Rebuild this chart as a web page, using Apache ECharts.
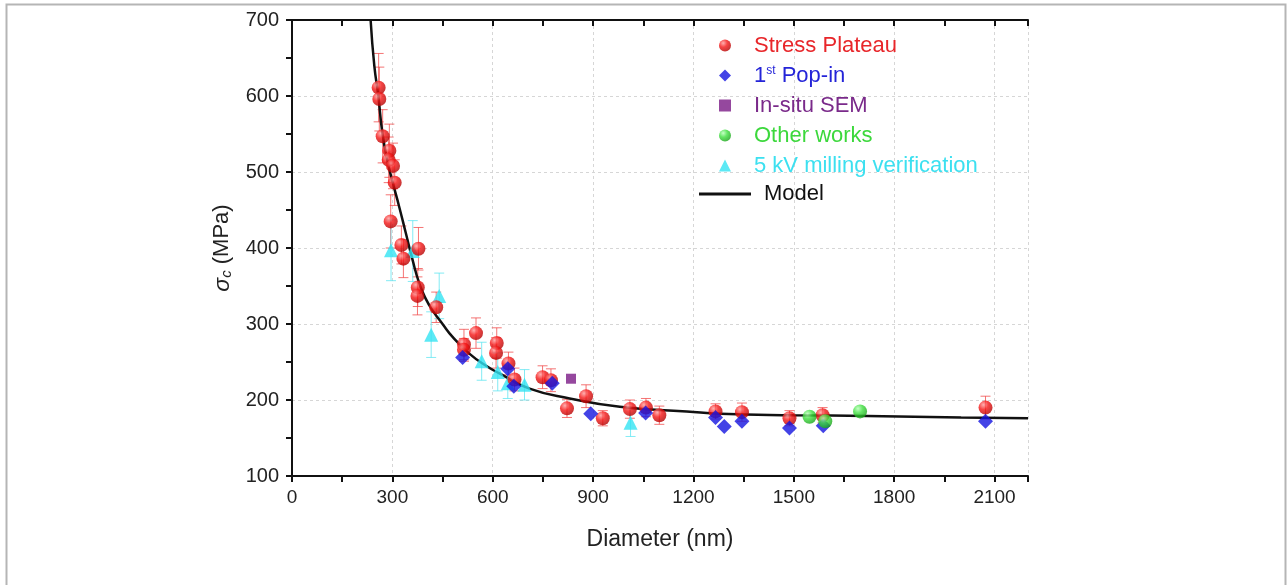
<!DOCTYPE html>
<html>
<head>
<meta charset="utf-8">
<script src="https://cdn.jsdelivr.net/npm/echarts@6/dist/echarts.min.js"></script>
<style>
  html, body { margin: 0; padding: 0; background: #fff; }
  #chart { width: 1287px; height: 585px; }
</style>
</head>
<body>
<div id="chart"></div>
<script>
// stress plateau: [diameter, stress, error]
var plateau = [
    [259, 611, 45], [261, 596, 42], [271, 547, 35], [291, 528, 35], [289, 516, 30],
    [302, 508, 30], [307, 486, 30], [295, 435, 35], [327, 404, 25], [333, 386, 25],
    [378, 399, 28], [376, 348, 25], [375, 337, 25], [431, 322, 20], [514, 273, 20],
    [514, 266, 15], [550, 288, 20], [612, 275, 20], [610, 262, 20], [647, 248, 15],
    [665, 227, 15], [749, 230, 15], [774, 226, 15], [822, 189, 12], [879, 205, 15],
    [929, 176, 10], [1010, 188, 12], [1058, 190, 12], [1098, 180, 12], [1266, 185, 10],
    [1345, 184, 12], [1487, 176, 10], [1586, 180, 10], [2073, 190, 15]
];
var popIn = [
    [510, 256], [645, 241], [663, 218], [778, 222], [893, 182], [1057, 183],
    [1266, 177], [1292, 165], [1345, 172], [1487, 163], [1588, 166], [2073, 172]
];
var insituSEM = [[834, 228]];
var otherWorks = [[1547, 178], [1594, 172], [1698, 185]];
// 5 kV milling: [diameter, stress, error]
var milling = [
    [296, 397, 40], [361, 396, 40], [416, 286, 30], [440, 337, 30], [567, 251, 25],
    [615, 237, 25], [645, 222, 20], [695, 220, 20], [1012, 170, 18]
];
var model = [
    [235, 700], [246, 640], [258, 600], [270, 552], [285, 515], [300, 488], [320, 455],
    [340, 420], [360, 385], [380, 354], [400, 333], [420, 318], [450, 300], [480, 283],
    [530, 261], [580, 245], [620, 235], [710, 215], [830, 202], [980, 191], [1180, 185],
    [1280, 182], [1500, 180], [1720, 179], [2000, 177], [2200, 176]
];

var font = 'Liberation Sans, Arial, sans-serif';

function sphere(light, mid, dark) {
    return {
        type: 'radial', x: 0.35, y: 0.3, r: 0.75,
        colorStops: [{ offset: 0, color: light }, { offset: 0.45, color: mid }, { offset: 1, color: dark }]
    };
}

function errData(arr) {
    return arr.map(function (p) { return [p[0], p[1] - p[2], p[1] + p[2]]; });
}

function errSeries(arr, color) {
    return {
        type: 'custom',
        data: errData(arr),
        encode: { x: 0, y: [1, 2] },
        z: 1,
        silent: true,
        renderItem: function (params, api) {
            var lo = api.coord([api.value(0), api.value(1)]);
            var hi = api.coord([api.value(0), api.value(2)]);
            var st = { stroke: color, lineWidth: 1 };
            return {
                type: 'group',
                children: [
                    { type: 'line', shape: { x1: lo[0], y1: lo[1], x2: hi[0], y2: hi[1] }, style: st },
                    { type: 'line', shape: { x1: lo[0] - 5, y1: lo[1], x2: lo[0] + 5, y2: lo[1] }, style: st },
                    { type: 'line', shape: { x1: hi[0] - 5, y1: hi[1], x2: hi[0] + 5, y2: hi[1] }, style: st }
                ]
            };
        }
    };
}

var chart = echarts.init(document.getElementById('chart'));

var axisLine = { show: true, lineStyle: { color: '#111', width: 2 } };
var gridLine = { show: true, lineStyle: { color: '#d6d6d6', type: [3, 3], width: 1 } };

var option = {
    backgroundColor: '#fff',
    animation: false,
    graphic: [{
        type: 'rect', left: 4, top: 2,
        shape: { width: 1279, height: 590 },
        style: { fill: 'none', stroke: '#b5b5b5', lineWidth: 2 }
    }],
    grid: { left: 292, top: 20, width: 736, height: 456 },
    legend: [{
        orient: 'vertical',
        left: 714, top: 29,
        itemWidth: 12, itemHeight: 12, itemGap: 7,
        textStyle: {
            fontFamily: font, fontSize: 22, lineHeight: 23, padding: [0, 0, 0, 18],
            rich: {
                b: { color: '#2424d8', fontFamily: font, fontSize: 22 },
                s: { color: '#2424d8', fontFamily: font, fontSize: 12, padding: [0, 0, 10, 0] }
            }
        },
        formatter: function (name) {
            if (name === '1st Pop-in') return '{b|1}{s|st}{b| Pop-in}';
            return name;
        },
        data: [
            { name: 'Stress Plateau', textStyle: { color: '#e8262a' } },
            { name: '1st Pop-in', textStyle: { color: '#2424d8' } },
            { name: 'In-situ SEM', textStyle: { color: '#7a2a8a' } },
            { name: 'Other works', textStyle: { color: '#3cd83c' } },
            { name: '5 kV milling verification', textStyle: { color: '#3ce0f0' } }
        ]
    }, {
        left: 694, top: 178,
        itemWidth: 52, itemHeight: 3,
        textStyle: { fontFamily: font, fontSize: 22, color: '#111', padding: [0, 0, 0, 8] },
        data: [{ name: 'Model', icon: 'rect' }]
    }],
    xAxis: [{
        type: 'value', min: 0, max: 2200, interval: 300,
        name: 'Diameter (nm)', nameLocation: 'middle', nameGap: 52,
        nameTextStyle: { fontFamily: font, fontSize: 23, color: '#222' },
        axisLine: axisLine,
        axisTick: { show: true, length: 6, lineStyle: { color: '#111', width: 2 } },
        minorTick: { show: true, splitNumber: 2, length: 6, lineStyle: { color: '#111', width: 2 } },
        axisLabel: {
            fontFamily: font, fontSize: 19, color: '#222', margin: 12, showMaxLabel: false,
            formatter: function (v) { return String(v); }
        },
        splitLine: gridLine
    }, {
        type: 'value', min: 0, max: 2200, interval: 300, position: 'top',
        axisLine: axisLine,
        axisTick: { show: true, inside: true, length: 6, lineStyle: { color: '#111', width: 2 } },
        minorTick: { show: true, splitNumber: 2, length: 6, lineStyle: { color: '#111', width: 2 } },
        axisLabel: { show: false },
        splitLine: { show: false }
    }],
    yAxis: [{
        type: 'value', min: 100, max: 700, interval: 100,
        name: '{i|σ}{c|c} (MPa)', nameLocation: 'middle', nameGap: 50,
        nameTextStyle: {
            fontFamily: font, fontSize: 22, color: '#222',
            rich: {
                i: { fontFamily: font, fontSize: 23, fontStyle: 'italic', color: '#222' },
                c: { fontFamily: font, fontSize: 15, fontStyle: 'italic', color: '#222', padding: [10, 0, 0, 0] }
            }
        },
        axisLine: axisLine,
        axisTick: { show: true, length: 6, lineStyle: { color: '#111', width: 2 } },
        minorTick: { show: true, splitNumber: 2, length: 6, lineStyle: { color: '#111', width: 2 } },
        axisLabel: { fontFamily: font, fontSize: 20, color: '#222', margin: 13 },
        splitLine: gridLine
    }, {
        type: 'value', min: 100, max: 700, interval: 100, position: 'right',
        axisLine: axisLine,
        axisTick: { show: true, inside: true, length: 6, lineStyle: { color: '#111', width: 2 } },
        minorTick: { show: true, splitNumber: 2, length: 6, lineStyle: { color: '#111', width: 2 } },
        axisLabel: { show: false },
        splitLine: { show: false }
    }],
    series: [
        errSeries(plateau, 'rgba(240,70,70,0.75)'),
        errSeries(milling, 'rgba(90,228,240,0.75)'),
        {
            name: 'Model', type: 'line', smooth: true, symbol: 'none', z: 3,
            itemStyle: { color: '#111' },
            lineStyle: { color: '#111', width: 2.5 },
            data: model
        },
        {
            name: 'Stress Plateau', type: 'scatter', symbol: 'circle', symbolSize: 14, z: 5,
            itemStyle: { color: sphere('#ff9c9c', '#f51515', '#b00000') },
            data: plateau.map(function (p) { return [p[0], p[1]]; })
        },
        {
            name: '1st Pop-in', type: 'scatter', symbol: 'diamond', symbolSize: 15, z: 6,
            itemStyle: { color: '#1414e0' },
            data: popIn
        },
        {
            name: 'In-situ SEM', type: 'scatter', symbol: 'rect', symbolSize: 10, z: 6,
            itemStyle: { color: '#7a1a86' },
            data: insituSEM
        },
        {
            name: 'Other works', type: 'scatter', symbol: 'circle', symbolSize: 14, z: 6,
            itemStyle: { color: sphere('#b8ffb8', '#3ee03e', '#16a016') },
            data: otherWorks
        },
        {
            name: '5 kV milling verification', type: 'scatter', symbol: 'triangle', symbolSize: 14, z: 4,
            itemStyle: { color: '#33e4f2' },
            data: milling.map(function (p) { return [p[0], p[1]]; })
        }
    ]
};

chart.setOption(option);
</script>
</body>
</html>
